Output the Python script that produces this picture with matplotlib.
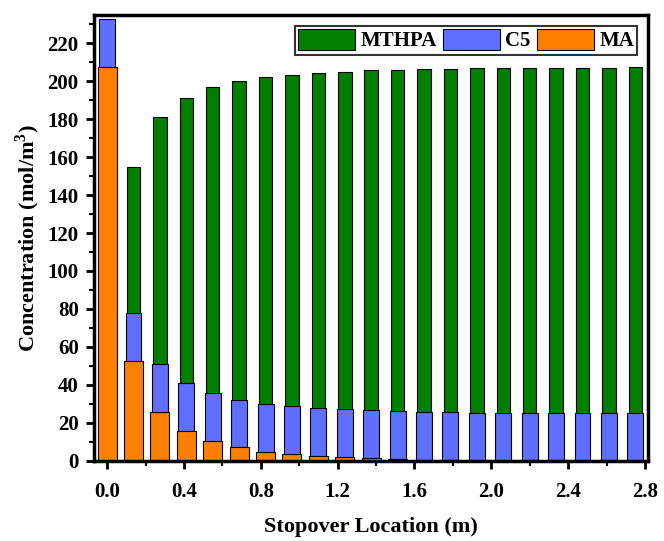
import numpy as np
import matplotlib.pyplot as plt
from matplotlib.ticker import MultipleLocator

plt.rcParams['font.family'] = ['Liberation Serif', 'DejaVu Serif']
plt.rcParams['font.weight'] = 'bold'
plt.rcParams['mathtext.fontset'] = 'custom'
plt.rcParams['mathtext.rm'] = 'Liberation Serif:bold'

# Posiciones de parada (m)
x = np.arange(21) * 0.1375

mthpa = [0, 154.5, 181, 191, 196.7, 200.2, 202.3, 203.3, 204.5, 205, 205.6,
         206, 206.3, 206.5, 206.7, 206.7, 206.8, 207, 207, 207, 207.2]
c5 = [232.5, 77.7, 51, 40.9, 35.6, 32.1, 29.8, 28.8, 27.7, 27.2, 26.7,
      26.1, 25.8, 25.6, 25.4, 25.3, 25.2, 25.1, 25.1, 25.1, 25.1]
ma = [207.5, 52.5, 26, 16, 10.5, 7.2, 4.9, 3.7, 2.8, 1.9, 1.4,
      0.9, 0.6, 0.4, 0.25, 0.15, 0.1, 0.05, 0.03, 0.02, 0.01]

fig = plt.figure(figsize=(6.64, 5.41), dpi=100)
ax = fig.add_axes([0.1416, 0.148, 0.834, 0.824])

ax.bar(x, mthpa, width=0.070, color='#007f00', edgecolor='black', linewidth=0.8, label='MTHPA')
ax.bar(x, c5, width=0.083, color='#5f6fff', edgecolor='black', linewidth=0.8, label='C5')
ax.bar(x, ma, width=0.099, color='#ff8000', edgecolor='black', linewidth=0.8, label='MA')

ax.set_xlim(-0.068, 2.815)
ax.set_ylim(0, 234.7)
ticks = np.arange(0, 2.81, 0.4)
ax.set_xticks(ticks)
ax.set_xticklabels([f'{v:.1f}' for v in ticks])
ax.xaxis.set_minor_locator(MultipleLocator(0.2))
ax.yaxis.set_major_locator(MultipleLocator(20))
ax.yaxis.set_minor_locator(MultipleLocator(10))

for s in ax.spines.values():
    s.set_linewidth(2.5)
ax.tick_params(axis='x', which='major', pad=9)
ax.tick_params(axis='y', which='major', pad=5)
ax.tick_params(which='major', direction='out', length=6, width=2, labelsize=15)
ax.tick_params(which='minor', direction='out', length=3.5, width=1.5)

ax.set_xlabel('Stopover Location (m)', fontsize=16, fontweight='bold', labelpad=11)
ax.set_ylabel('Concentration (mol/m$^3$)', fontsize=16, fontweight='bold', labelpad=4)

leg = ax.legend(ncol=3, loc='upper right', fontsize=15, frameon=True, fancybox=False,
                edgecolor='black', handlelength=2.75, handleheight=1.2, columnspacing=0.3,
                handletextpad=0.25, borderpad=0.15, borderaxespad=0.5)
leg.get_frame().set_linewidth(1.5)

plt.savefig('out.png', dpi=100)
